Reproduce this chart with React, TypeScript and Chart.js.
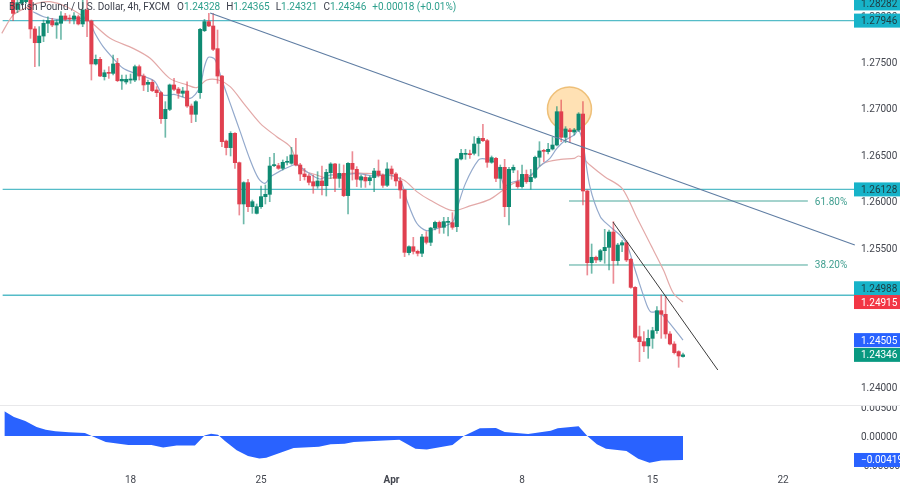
import { useEffect, useRef } from 'react';
import { Chart, registerables } from 'chart.js';

Chart.register(...registerables);

// first candle that shows on screen is bar 2, earlier ones are above the pane
const firstBar = 2;

const opens = [1.2824,1.28067,1.28132,1.2815,1.28204,1.27856,1.27708,1.2778,1.27917,1.27945,1.27899,1.27917,1.27996,1.27971,1.2796,1.27988,1.2791,1.2806,1.27942,1.27479,1.27529,1.27342,1.27385,1.27378,1.27486,1.27296,1.27285,1.27306,1.27306,1.2745,1.27349,1.2726,1.27281,1.27199,1.2717,1.2689,1.2699,1.27253,1.27209,1.27163,1.27188,1.27026,1.26937,1.2717,1.27838,1.27935,1.27888,1.27644,1.27349,1.26649,1.26578,1.26732,1.26416,1.25971,1.26201,1.25942,1.2587,1.25942,1.2605,1.26075,1.26384,1.26384,1.26355,1.2642,1.26409,1.26499,1.26391,1.26294,1.26272,1.26211,1.26165,1.26219,1.26168,1.26308,1.26402,1.26247,1.26301,1.26061,1.26409,1.26344,1.26229,1.26258,1.26222,1.26255,1.26326,1.2628,1.26172,1.26348,1.26294,1.26219,1.26122,1.25447,1.25511,1.25461,1.2544,1.25616,1.25558,1.25712,1.25773,1.2572,1.25773,1.2577,1.25727,1.26456,1.26506,1.26509,1.26517,1.26624,1.26678,1.26653,1.2642,1.26463,1.26247,1.26366,1.25942,1.26337,1.26211,1.26158,1.2629,1.26211,1.26258,1.26474,1.26545,1.26535,1.26563,1.26606,1.26965,1.26689,1.26768,1.26746,1.26768,1.2694,1.26111,1.25339,1.25397,1.25368,1.25468,1.25504,1.25669,1.25361,1.25529,1.25554,1.25375,1.25073,1.24542,1.24488,1.24442,1.24524,1.24607,1.24822,1.24783,1.24571,1.24463,1.24381,1.24328];
const closes = [1.28024,1.28139,1.28168,1.28204,1.27856,1.27708,1.2778,1.27917,1.27945,1.27899,1.27924,1.27996,1.2796,1.27963,1.27996,1.2791,1.2806,1.27942,1.27479,1.27529,1.27349,1.27385,1.27378,1.27479,1.27299,1.27314,1.27314,1.27317,1.2745,1.27349,1.27253,1.27281,1.27192,1.2717,1.2689,1.2699,1.27253,1.27206,1.27163,1.27188,1.27026,1.26937,1.27073,1.27852,1.27935,1.27888,1.27637,1.27349,1.26642,1.26578,1.26732,1.26416,1.25971,1.26201,1.25942,1.25996,1.25942,1.2605,1.26075,1.2638,1.26391,1.26355,1.2642,1.26427,1.26499,1.26391,1.26294,1.26265,1.26204,1.26165,1.26219,1.26168,1.26312,1.26402,1.26247,1.26301,1.26061,1.26409,1.26344,1.26237,1.26265,1.26219,1.26255,1.26326,1.2628,1.26172,1.26348,1.26294,1.26219,1.26122,1.2545,1.25511,1.25461,1.2544,1.25616,1.25558,1.25712,1.25773,1.2572,1.25781,1.25777,1.2572,1.26456,1.26517,1.26513,1.26502,1.26617,1.26678,1.26653,1.2642,1.2647,1.26247,1.26366,1.25942,1.26344,1.26366,1.26158,1.2629,1.26211,1.26258,1.26474,1.26542,1.26538,1.2656,1.26606,1.26965,1.26689,1.26779,1.2675,1.26768,1.2694,1.26111,1.25339,1.25397,1.25368,1.25468,1.25504,1.25669,1.25361,1.25529,1.25554,1.25368,1.25073,1.24535,1.24488,1.24442,1.24524,1.24607,1.24822,1.24783,1.24571,1.24463,1.2437,1.24334,1.24346];
const highs = [1.28312,1.28204,1.28204,1.28222,1.2824,1.27881,1.27881,1.27953,1.27988,1.27971,1.27953,1.28042,1.28024,1.28006,1.28032,1.28006,1.28168,1.28168,1.27953,1.27576,1.27551,1.27414,1.2745,1.27576,1.2754,1.2736,1.2736,1.27371,1.27468,1.27468,1.27371,1.27306,1.27306,1.27235,1.27181,1.27073,1.27263,1.27324,1.27227,1.27227,1.27288,1.27048,1.27084,1.27863,1.2796,1.28024,1.28024,1.27845,1.27357,1.2666,1.2675,1.26739,1.26423,1.26211,1.26237,1.26014,1.25971,1.26165,1.26176,1.26474,1.26517,1.26409,1.26445,1.26481,1.26581,1.26678,1.26409,1.26355,1.26294,1.26283,1.26319,1.2638,1.26344,1.26416,1.26409,1.26402,1.26391,1.26416,1.26535,1.26373,1.26283,1.26283,1.26272,1.26355,1.26445,1.26294,1.26416,1.2638,1.26308,1.26258,1.26129,1.25519,1.25612,1.25475,1.25644,1.25673,1.2572,1.25788,1.25788,1.25827,1.25827,1.25878,1.26463,1.2656,1.2656,1.26552,1.26696,1.26696,1.26829,1.26667,1.26488,1.26474,1.26391,1.26452,1.26366,1.26391,1.2633,1.26391,1.26337,1.26344,1.26488,1.26642,1.2656,1.26624,1.26689,1.27019,1.27091,1.26804,1.26786,1.26786,1.26955,1.27073,1.26122,1.2554,1.25411,1.25483,1.25698,1.25691,1.25781,1.25547,1.25576,1.25576,1.25386,1.25081,1.24657,1.24596,1.24614,1.24643,1.24865,1.24991,1.2498,1.24596,1.24488,1.24391,1.24365];
const lows = [1.27945,1.28032,1.28114,1.28132,1.27755,1.2745,1.27457,1.27719,1.27816,1.27881,1.27755,1.27744,1.27945,1.27917,1.2791,1.27899,1.27881,1.27773,1.27306,1.27468,1.27342,1.27306,1.27324,1.2736,1.27288,1.27206,1.27263,1.2727,1.27288,1.27306,1.27192,1.27181,1.27181,1.27127,1.2684,1.26689,1.26976,1.27192,1.27109,1.27127,1.27012,1.26847,1.26858,1.27109,1.27827,1.27881,1.27622,1.2727,1.26588,1.26499,1.26488,1.26355,1.25852,1.25756,1.25888,1.2587,1.25863,1.25924,1.25971,1.25996,1.26373,1.26344,1.26337,1.26391,1.26398,1.2638,1.26222,1.26229,1.26176,1.26086,1.2614,1.26068,1.26057,1.26247,1.26104,1.2615,1.2605,1.25863,1.26229,1.26158,1.2615,1.2615,1.26176,1.26104,1.26262,1.2615,1.26158,1.26237,1.26165,1.26032,1.25404,1.25422,1.25432,1.25411,1.25404,1.2554,1.25522,1.25691,1.25655,1.25655,1.25626,1.25698,1.25673,1.26445,1.26452,1.26463,1.26499,1.26488,1.26642,1.26366,1.26409,1.26211,1.2614,1.25834,1.25745,1.26308,1.2614,1.2614,1.26193,1.26129,1.26247,1.2638,1.26427,1.26509,1.26552,1.26596,1.26642,1.26631,1.26631,1.26714,1.2675,1.2596,1.25206,1.25224,1.25339,1.2535,1.25332,1.2526,1.25116,1.25314,1.25458,1.2535,1.25063,1.24524,1.24273,1.24381,1.24309,1.24416,1.24578,1.24524,1.24524,1.24452,1.24355,1.24212,1.24321];

const fastBars = [6.6,9,12,16.6,19.3,20.8,22.7,25,27.3,29.6,32.7,34.6,36.5,39,42.7,44.8,46,46.9,48.4,50,51.9,54.2,56.5,58.4,59.9,61.4,66.4,67.6,69.5,72.5,74.9,78,81,84.8,88.6,91,92.5,94.8,97,100,103,104,106,109,110.5,113,115,116,118.5,121,123,125.4,127,129,131,132,133,134.6,137,139,141.5,143,145,147,148.5,150.4,152.3,156];
const fastValues = [1.28042,1.27988,1.2796,1.27971,1.27953,1.27809,1.27665,1.2754,1.27432,1.27385,1.27335,1.27288,1.27145,1.27152,1.27109,1.27217,1.2745,1.27551,1.27529,1.27306,1.27055,1.2675,1.26445,1.26247,1.26193,1.26272,1.26391,1.26384,1.26319,1.2624,1.26283,1.26283,1.26301,1.26272,1.26283,1.26229,1.26014,1.25763,1.25684,1.25715,1.25775,1.25915,1.26193,1.26445,1.26456,1.26409,1.26158,1.26193,1.26229,1.26283,1.26373,1.26463,1.2657,1.2666,1.26714,1.26768,1.26624,1.26158,1.25834,1.25738,1.25637,1.25547,1.2526,1.24973,1.24811,1.24811,1.24722,1.24505];
const slowBars = [-0.6,2,4.7,7.4,10.5,14.3,19.3,24.3,29.6,33.5,38,42,44.2,46.5,49.2,51.9,55,58.8,62.6,65.7,68,71.8,74.9,78.7,82.5,87.9,91.8,94.8,97.8,103,107,111.6,114.7,117,120.8,123.9,127.9,131,132,133,134.6,138,142,145.3,148.4,151.5,153.8,156];
const slowValues = [1.27809,1.28006,1.28078,1.28132,1.2815,1.28096,1.27953,1.27755,1.27647,1.2754,1.27324,1.27253,1.27224,1.27306,1.27306,1.27235,1.27055,1.2684,1.26696,1.26588,1.26355,1.26283,1.26247,1.26301,1.26301,1.26283,1.26229,1.26104,1.26014,1.25899,1.2595,1.26021,1.26122,1.26193,1.26265,1.26409,1.26452,1.26463,1.26488,1.26463,1.26391,1.26265,1.2614,1.25834,1.25547,1.2526,1.25009,1.24915];

const oscBars = [0,2.2,4.8,7.4,9.5,11.7,14.8,18.5,20.6,23.3,28.5,33.8,36.5,39.6,43.8,46,47.5,49.1,50.7,53.4,56,58.6,60.2,66.5,72.3,75,78.2,80.3,90.8,94.5,97.1,103,105.6,109.3,113,115,120.4,125.6,127.2,132,134,136.2,138.3,143,145.7,148.3,151,156];
const oscValues = [0.00432,0.00333,0.00263,0.00158,0.00111,0.00082,0.00064,0.00053,-0.00018,-0.00105,-0.00158,-0.00158,-0.00199,-0.00164,-0.00164,0.0001,0.00041,0.00023,-0.00088,-0.00251,-0.0035,-0.00391,-0.0038,-0.0021,-0.00187,-0.00146,-0.00134,-0.00105,-0.00064,-0.00222,-0.00234,-0.00158,0,0.00134,0.0014,0.0007,0.00035,0.00093,0.00134,0.00169,0,-0.00146,-0.00222,-0.00263,-0.00397,-0.00467,-0.00426,-0.00419];

const levels = [1.27946, 1.26128, 1.24988];
const fibLevels = [1.26003, 1.25314];
const fibLabels = ['61.80%', '38.20%'];
const fibBars = [129.8, 184.7];
const downTrendBars = [47.3, 195.5];
const downTrendValues = [1.28028, 1.25529];
const shortTrendBars = [139.9, 164];
const shortTrendValues = [1.25777, 1.24183];
const circleBar = 129.9;
const circleValue = 1.26994;

const priceTicks = [1.24, 1.245, 1.25, 1.255, 1.26, 1.265, 1.27, 1.275, 1.28];
const oscTicks = [0.005, 0, -0.005];
const dayBars = [29, 59, 89, 119, 149, 179];
const dayLabels = ['18', '25', 'Apr', '8', '15', '22'];

const tagValues = [1.28282, 1.27946, 1.26128, 1.24988, 1.24915, 1.24505, 1.24346];
const tagColors = ['#17b3c9', '#17b3c9', '#17b3c9', '#17b3c9', '#f23645', '#2962ff', '#089981'];
const tagTextColors = ['#1f3b40', '#1f3b40', '#1f3b40', '#1f3b40', '#fff', '#fff', '#fff'];
const tagNudge = [14, 0, 0, -7, 0, 0, 0]; // labels pushed apart so they don't overlap
const oscTag = -0.00419;

const legendTitle = 'British Pound / U.S. Dollar, 4h, FXCM';
const legendItems = [['O', '1.24328'], ['H', '1.24365'], ['L', '1.24321'], ['C', '1.24346']];
const legendChange = '+0.00018 (+0.01%)';

const GREEN = '#0e8a72';
const RED = '#e0404f';
const FONT = 'Roboto';

const pts = (xs: number[], ys: number[]) => xs.map((x, i) => ({ x, y: ys[i] }));

// axes must not reserve room for half a label, the panes run edge to edge
const noPadding = (axis: any) => {
  axis.paddingTop = 0;
  axis.paddingBottom = 0;
  axis.paddingLeft = 0;
  axis.paddingRight = 0;
};

const overlay = {
  id: 'overlay',
  afterDraw(chart: any) {
    const { ctx, scales } = chart;
    const { x, y, osc } = scales;
    ctx.save();
    ctx.textBaseline = 'middle';

    // pane separator, also cuts the top of the 0.005 label
    ctx.fillStyle = '#fff';
    ctx.fillRect(856, 395, 44, 10);
    ctx.fillStyle = '#e8e8ea';
    ctx.fillRect(0, 405, 900, 1);

    // fib labels
    ctx.font = `10px ${FONT}`;
    ctx.fillStyle = '#3f9e8f';
    fibLevels.forEach((v, i) => {
      ctx.fillText(fibLabels[i], x.getPixelForValue(fibBars[1]) + 7, y.getPixelForValue(v) + 1);
    });

    // price tags on the right axis
    tagValues.forEach((v, i) => {
      const py = y.getPixelForValue(v) + tagNudge[i];
      ctx.fillStyle = tagColors[i];
      ctx.fillRect(854, py - 7, 46, 14);
      ctx.fillStyle = tagTextColors[i];
      ctx.fillText(v.toFixed(5), 861, py + 1);
    });
    const oy = osc.getPixelForValue(oscTag);
    ctx.fillStyle = '#2962ff';
    ctx.fillRect(854, oy - 7, 46, 14);
    ctx.fillStyle = '#fff';
    ctx.fillText(oscTag.toFixed(5).replace('-', '\u2212'), 861, oy + 1);

    // legend line
    ctx.fillStyle = '#3a3e4a';
    ctx.fillText(legendTitle, 9, 7);
    let tx = 177;
    legendItems.forEach(([k, val]) => {
      ctx.fillStyle = '#3a3e4a';
      ctx.fillText(k, tx, 7);
      tx += ctx.measureText(k).width;
      ctx.fillStyle = '#2c9f8c';
      ctx.fillText(val, tx, 7);
      tx += ctx.measureText(val).width + 6;
    });
    ctx.fillText(legendChange, tx, 7);
    ctx.restore();
  },
};

export default function App() {
  const canvasRef = useRef<HTMLCanvasElement>(null);

  useEffect(() => {
    if (!canvasRef.current) return;
    const bodyColors = closes.map((c, i) => (c >= opens[i] ? GREEN : RED));
    const wickColors = closes.map((c, i) => (c >= opens[i] ? 'rgba(14,138,114,0.6)' : 'rgba(224,64,79,0.6)'));

    const chart = new Chart(canvasRef.current, {
      type: 'bar',
      data: {
        datasets: [
          {
            type: 'line',
            data: [{ x: circleBar, y: circleValue }],
            pointRadius: 22,
            pointBackgroundColor: 'rgba(255,183,77,0.42)',
            pointBorderColor: 'rgba(236,186,110,0.9)',
            pointBorderWidth: 1.5,
            showLine: false,
            order: 8,
          },
          ...levels.map((v) => ({
            type: 'line',
            data: pts([-0.4, 195.5], [v, v]),
            borderColor: '#55bcc8',
            borderWidth: 1.3,
            pointRadius: 0,
            order: 7,
          })),
          ...fibLevels.map((v) => ({
            type: 'line',
            data: pts(fibBars, [v, v]),
            borderColor: '#4aa79b',
            borderWidth: 1,
            pointRadius: 0,
            order: 7,
          })),
          {
            type: 'line',
            data: pts(slowBars, slowValues),
            borderColor: '#e3a9a8',
            borderWidth: 1.2,
            pointRadius: 0,
            tension: 0.3,
            order: 6,
          },
          {
            type: 'line',
            data: pts(fastBars, fastValues),
            borderColor: '#93a9cc',
            borderWidth: 1.2,
            pointRadius: 0,
            tension: 0.3,
            order: 5,
          },
          {
            data: lows.map((l, i) => ({ x: i + firstBar, y: [l, highs[i]] })),
            backgroundColor: wickColors,
            barThickness: 1,
            grouped: false,
            order: 4,
          },
          {
            data: opens.map((o, i) => ({ x: i + firstBar, y: [o, closes[i]] })),
            backgroundColor: bodyColors,
            barThickness: 3.4,
            minBarLength: 1,
            grouped: false,
            order: 3,
          },
          {
            type: 'line',
            data: pts(downTrendBars, downTrendValues),
            borderColor: '#5f7da3',
            borderWidth: 1.1,
            pointRadius: 0,
            order: 2,
          },
          {
            type: 'line',
            data: pts(shortTrendBars, shortTrendValues),
            borderColor: '#3b3b3b',
            borderWidth: 1,
            pointRadius: 0,
            order: 1,
          },
          {
            type: 'line',
            yAxisID: 'osc',
            data: pts(oscBars, oscValues),
            borderColor: '#2962ff',
            backgroundColor: '#2962ff',
            borderWidth: 0,
            pointRadius: 0,
            fill: { value: 0 },
            order: 9,
          },
        ] as any,
      },
      options: {
        animation: false,
        responsive: false,
        devicePixelRatio: 1,
        layout: { padding: 0, autoPadding: false },
        plugins: { legend: { display: false }, tooltip: { enabled: false } },
        scales: {
          x: {
            type: 'linear',
            offset: false,
            min: -1.01,
            max: 195.54,
            grid: { display: false, drawTicks: false },
            border: { display: false },
            afterBuildTicks: (axis: any) => {
              axis.ticks = dayBars.map((value) => ({ value }));
            },
            afterFit: (axis: any) => {
              axis.height = 18;
              noPadding(axis);
            },
            ticks: {
              autoSkip: false,
              maxRotation: 0,
              padding: 6,
              color: '#43464f',
              font: (c: any) => ({ family: FONT, size: 10, weight: c.tick?.value === 89 ? 'bold' : 'normal' }),
              callback: (v: any) => dayLabels[dayBars.indexOf(v)],
            },
          },
          y: {
            type: 'linear',
            position: 'right',
            stack: 'panes',
            stackWeight: 405,
            min: 1.23806,
            max: 1.28168,
            grid: { display: false, drawTicks: false },
            border: { display: false },
            afterBuildTicks: (axis: any) => {
              axis.ticks = priceTicks.map((value) => ({ value }));
            },
            afterFit: (axis: any) => {
              axis.width = 45;
              noPadding(axis);
            },
            ticks: {
              autoSkip: false,
              padding: 6,
              labelOffset: 1.5,
              color: '#43464f',
              font: { family: FONT, size: 10 },
              callback: (v: any) => Number(v).toFixed(5),
            },
          },
          osc: {
            type: 'linear',
            position: 'right',
            stack: 'panes',
            stackWeight: 63,
            min: -0.00559,
            max: 0.00541,
            grid: { display: false, drawTicks: false },
            border: { display: false },
            afterBuildTicks: (axis: any) => {
              axis.ticks = oscTicks.map((value) => ({ value }));
            },
            afterFit: (axis: any) => {
              axis.width = 45;
              noPadding(axis);
            },
            ticks: {
              autoSkip: false,
              padding: 6,
              labelOffset: 1.5,
              color: '#43464f',
              font: { family: FONT, size: 10 },
              callback: (v: any) => Number(v).toFixed(5),
            },
          },
        },
      },
      plugins: [overlay],
    } as any);

    return () => chart.destroy();
  }, []);

  return (
    <div style={{ position: 'absolute', left: 0, top: 0, width: 900, height: 486, background: '#fff' }}>
      <canvas ref={canvasRef} width={900} height={486} style={{ display: 'block' }} />
    </div>
  );
}
